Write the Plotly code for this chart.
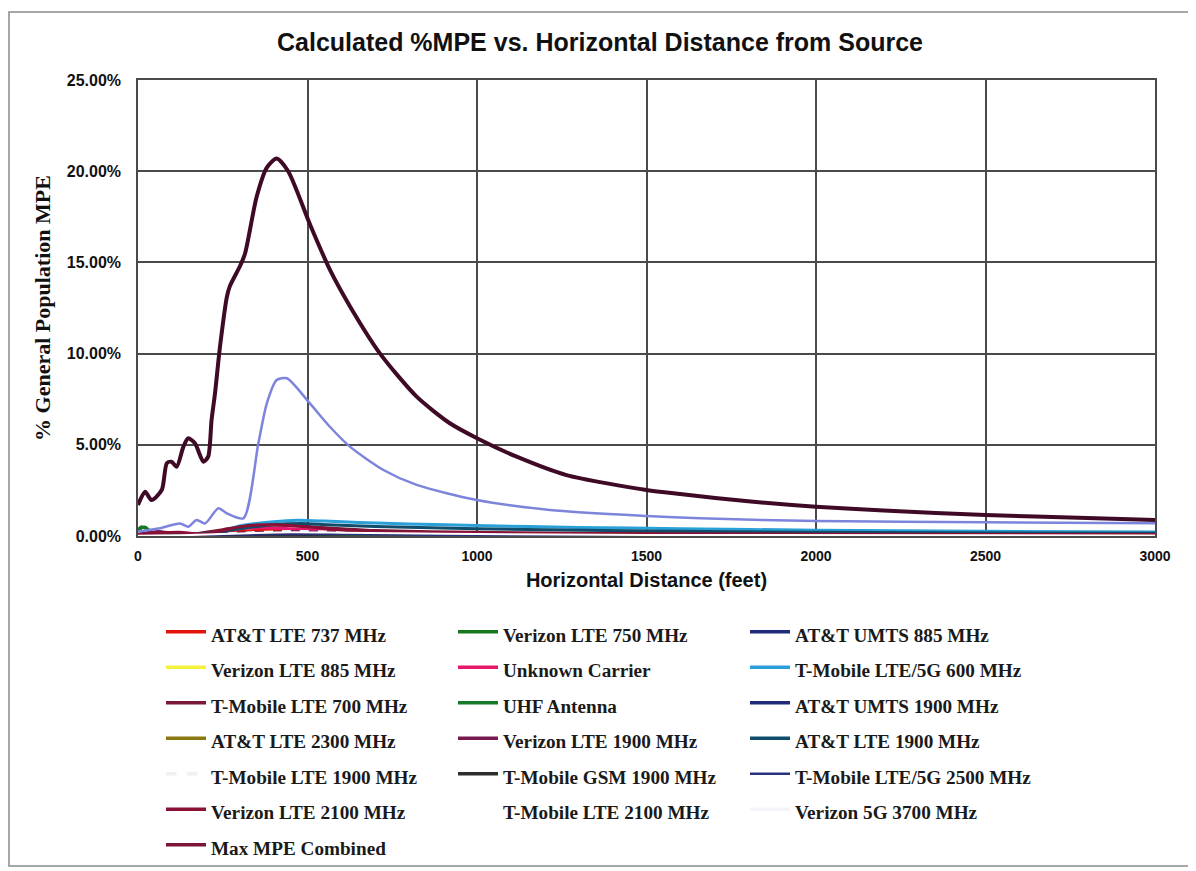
import plotly.graph_objects as go

# ---------------- data ----------------
series_names = [
    "AT&T LTE 737 MHz", "Verizon LTE 750 MHz", "AT&T UMTS 885 MHz",
    "Verizon LTE 885 MHz", "Unknown Carrier", "T-Mobile LTE/5G 600 MHz",
    "T-Mobile LTE 700 MHz", "UHF Antenna", "AT&T UMTS 1900 MHz",
    "AT&T LTE 2300 MHz", "Verizon LTE 1900 MHz", "AT&T LTE 1900 MHz",
    "T-Mobile LTE 1900 MHz", "T-Mobile GSM 1900 MHz", "T-Mobile LTE/5G 2500 MHz",
    "Verizon LTE 2100 MHz", "T-Mobile LTE 2100 MHz", "Verizon 5G 3700 MHz",
    "Max MPE Combined",
]

# distance (feet) / %MPE for each series
att737_x = [0, 100, 200, 300, 400, 500, 700, 1000, 1500, 2000, 3000]
att737_y = [0.02, 0.05, 0.10, 0.25, 0.35, 0.30, 0.20, 0.12, 0.07, 0.05, 0.03]

vz750_x = [0, 20, 40, 80, 150, 250, 400, 600, 1000, 2000, 3000]
vz750_y = [0.30, 0.50, 0.20, 0.10, 0.05, 0.08, 0.15, 0.12, 0.08, 0.04, 0.02]

attumts885_x = [0, 150, 300, 450, 600, 900, 1500, 3000]
attumts885_y = [0.02, 0.05, 0.12, 0.18, 0.15, 0.10, 0.05, 0.02]

vz885_x = [0, 150, 300, 450, 600, 900, 1500, 3000]
vz885_y = [0.01, 0.03, 0.08, 0.12, 0.10, 0.07, 0.04, 0.02]

unknown_x = [0, 100, 200, 280, 350, 420, 500, 650, 900, 1500, 3000]
unknown_y = [0.05, 0.10, 0.15, 0.35, 0.45, 0.42, 0.35, 0.25, 0.15, 0.08, 0.03]

tm600_x = [0, 100, 200, 250, 300, 400, 470, 550, 650, 800, 1000, 1300, 1600, 2000, 2500, 3000]
tm600_y = [0.05, 0.10, 0.15, 0.30, 0.55, 0.78, 0.86, 0.82, 0.74, 0.66, 0.57, 0.47, 0.40, 0.32, 0.26, 0.22]

tm700_x = [150, 200, 250, 300, 350, 400, 450, 500, 600, 700, 1000, 1500, 3000]
tm700_y = [0.05, 0.20, 0.35, 0.50, 0.58, 0.60, 0.57, 0.52, 0.40, 0.30, 0.20, 0.12, 0.05]

uhf_x = [0, 10, 25, 45, 80, 150, 300, 600, 1500, 3000]
uhf_y = [0.35, 0.50, 0.40, 0.15, 0.10, 0.05, 0.03, 0.02, 0.01, 0.00]

attumts1900_x = [0, 150, 300, 450, 600, 900, 1500, 3000]
attumts1900_y = [0.02, 0.05, 0.15, 0.22, 0.18, 0.12, 0.06, 0.03]

att2300_x = [0, 150, 300, 450, 600, 900, 1500, 3000]
att2300_y = [0.01, 0.04, 0.10, 0.15, 0.12, 0.08, 0.04, 0.02]

vz1900_x = [0, 60, 100, 150, 300, 450, 600, 900, 1500, 3000]
vz1900_y = [0.10, 0.25, 0.15, 0.05, 0.15, 0.20, 0.18, 0.12, 0.06, 0.03]

att1900_x = [0, 100, 200, 300, 400, 480, 560, 700, 1000, 1500, 2000, 3000]
att1900_y = [0.03, 0.06, 0.12, 0.40, 0.62, 0.68, 0.62, 0.52, 0.40, 0.28, 0.20, 0.15]

tm1900_x = [0, 150, 300, 450, 600, 900, 1500, 3000]
tm1900_y = [0.02, 0.06, 0.18, 0.28, 0.24, 0.16, 0.08, 0.04]

tmgsm1900_x = [0, 150, 300, 450, 550, 700, 1000, 1500, 2000, 3000]
tmgsm1900_y = [0.00, 0.02, 0.04, 0.06, 0.10, 0.13, 0.12, 0.10, 0.08, 0.06]

tm2500_x = [0, 150, 300, 450, 600, 900, 1500, 3000]
tm2500_y = [0.01, 0.03, 0.08, 0.10, 0.09, 0.06, 0.03, 0.01]

vz2100_x = [0, 60, 120, 200, 250, 300, 350, 400, 450, 500, 550, 650, 800, 1000, 1500, 2000, 3000]
vz2100_y = [0.05, 0.15, 0.20, 0.10, 0.30, 0.50, 0.60, 0.62, 0.58, 0.50, 0.40, 0.28, 0.20, 0.16, 0.12, 0.10, 0.08]

tm2100_x = [0, 150, 300, 450, 600, 900, 1500, 3000]
tm2100_y = [0.02, 0.05, 0.14, 0.20, 0.18, 0.12, 0.06, 0.03]

vz3700_x = [0, 65, 124, 148, 173, 198, 237, 262, 311, 355, 380, 409, 439, 507, 566,
            625, 724, 822, 1000, 1215, 1500, 1658, 2000, 2500, 3000]
vz3700_y = [0.24, 0.43, 0.69, 0.51, 0.88, 0.69, 1.52, 1.24, 0.97, 5.08, 7.27, 8.55, 8.65, 7.27, 5.99,
            4.90, 3.62, 2.80, 1.97, 1.43, 1.10, 0.97, 0.82, 0.75, 0.70]

maxmpe_x = [0, 21, 40, 70, 85, 99, 114, 134, 148, 168, 193, 207, 217, 227, 242, 262, 271,
            301, 316, 350, 380, 409, 443, 507, 566, 625, 714, 822, 920, 1000, 1117, 1264,
            1500, 1599, 1800, 2000, 2200, 2500, 2800, 3000]
maxmpe_y = [1.70, 2.43, 1.97, 2.52, 3.99, 4.07, 3.80, 4.90, 5.36, 5.08, 4.07, 4.35, 6.36, 7.80, 10.4, 13.1, 13.7,
            14.8, 15.5, 18.6, 20.2, 20.7, 20.0, 17.1, 14.6, 12.6, 10.0, 7.64, 6.18, 5.36, 4.35, 3.34,
            2.52, 2.30, 1.90, 1.60, 1.40, 1.15, 0.98, 0.88]

x_ticks = [0, 500, 1000, 1500, 2000, 2500, 3000]
y_ticks = [0, 5, 10, 15, 20, 25]

series_x = [att737_x, vz750_x, attumts885_x, vz885_x, unknown_x, tm600_x, tm700_x, uhf_x,
            attumts1900_x, att2300_x, vz1900_x, att1900_x, tm1900_x, tmgsm1900_x, tm2500_x,
            vz2100_x, tm2100_x, vz3700_x, maxmpe_x]
series_y = [att737_y, vz750_y, attumts885_y, vz885_y, unknown_y, tm600_y, tm700_y, uhf_y,
            attumts1900_y, att2300_y, vz1900_y, att1900_y, tm1900_y, tmgsm1900_y, tm2500_y,
            vz2100_y, tm2100_y, vz3700_y, maxmpe_y]

# ---------------- styles ----------------
plot_colors = ["#e3120b", "#17771d", "#1f2a78", "#f2f23a", "#e8176b", "#2aa0d8",
               "#7a1838", "#17772a", "#1f2a78", "#8a7810", "#761a50", "#0f4d6a",
               "#eef0f4", "#2e2e2e", "#2a3080", "#8a1035", "#ffffff", "#7c84dc", "#3e0a26"]
legend_colors = list(plot_colors)
legend_colors[17] = "#f3f5f9"
legend_colors[18] = "#7a1535"
widths = [3, 3, 3, 3, 3, 3, 3, 3, 3, 3, 3, 3, 2, 3, 2, 3, 2, 2.5, 4]
dashes = ["solid"] * 19
dashes[12] = "dash"

SERIF = "Liberation Serif, serif"
SANS = "Liberation Sans, Arial, sans-serif"

# page has an 8px body margin: figure pixel = page pixel - 8
OFF = 8
W, H = 1188, 863
PL, PR, PT, PB = 138 - OFF, 1155 - OFF, 80 - OFF, 536 - OFF  # plot box in figure px
PW, PH = PR - PL, PB - PT

fig = go.Figure()

order = list(range(17)) + [17, 18]
for i in order:
    fig.add_trace(go.Scatter(
        x=series_x[i], y=series_y[i], mode="lines", line_shape="spline",
        line=dict(color=plot_colors[i], width=widths[i], dash=dashes[i], smoothing=0.7),
        showlegend=False, hoverinfo="skip",
    ))

for i, name in enumerate(series_names):
    fig.add_trace(go.Scatter(
        x=[None], y=[None], mode="lines",
        line=dict(color=legend_colors[i], width=3.5 if i != 14 else 2.5, dash=dashes[i]),
        name='<span style="font-size:19.2px"><b>' + name + '</b></span>',
        showlegend=True,
    ))

fig.update_layout(
    width=W, height=H,
    paper_bgcolor="white", plot_bgcolor="white",
    margin=dict(l=PL, r=W - PR, t=PT, b=H - PB),
    title=dict(
        text="<b>Calculated %MPE vs. Horizontal Distance from Source</b>",
        x=(600 - OFF) / W, xanchor="center", xref="container",
        y=1 - (42 - OFF) / H, yanchor="middle", yref="container",
        font=dict(family=SANS, size=25, color="#111"),
    ),
    xaxis=dict(
        range=[0, 3000], tickvals=x_ticks, ticktext=[f"<b>{v}</b>" for v in x_ticks],
        showgrid=True, gridcolor="#4a4a4a", gridwidth=1.5,
        showline=True, linecolor="#4a4a4a", linewidth=1.5, mirror=True,
        ticks="", zeroline=False, ticklabelstandoff=6,
        tickfont=dict(family=SANS, size=14, color="#111"),
        title=dict(text="<b>Horizontal Distance (feet)</b>", standoff=10,
                   font=dict(family=SANS, size=20, color="#111")),
    ),
    yaxis=dict(
        range=[0, 25], tickvals=y_ticks, ticktext=[f"<b>{v:.2f}%</b>" for v in y_ticks],
        showgrid=True, gridcolor="#4a4a4a", gridwidth=1.5,
        showline=True, linecolor="#4a4a4a", linewidth=1.5, mirror=True,
        ticks="", zeroline=False, ticklabelstandoff=12,
        tickfont=dict(family=SANS, size=16, color="#111"),
        title=dict(text="<b>% General Population MPE</b>", standoff=10,
                   font=dict(family=SERIF, size=22, color="#111")),
    ),
    legend=dict(
        orientation="h", xref="container", yref="container",
        x=(167 - OFF - 6) / W, y=1 - (609 - OFF) / H, xanchor="left", yanchor="top",
        entrywidth=237, entrywidthmode="pixels", itemwidth=40,
        font=dict(family=SERIF, size=25, color="#1a1a1a"),
        bgcolor="rgba(0,0,0,0)", traceorder="normal",
    ),
    showlegend=True,
)

# outer chart frame
fig.add_shape(type="rect", xref="paper", yref="paper",
              x0=(1 - PL) / PW, x1=(1190 - OFF - PL) / PW,
              y0=(PB - (866 - OFF)) / PH, y1=(PB - (12 - OFF)) / PH,
              line=dict(color="#8a8a8a", width=1.5), layer="below")

fig.write_html("out.html")
